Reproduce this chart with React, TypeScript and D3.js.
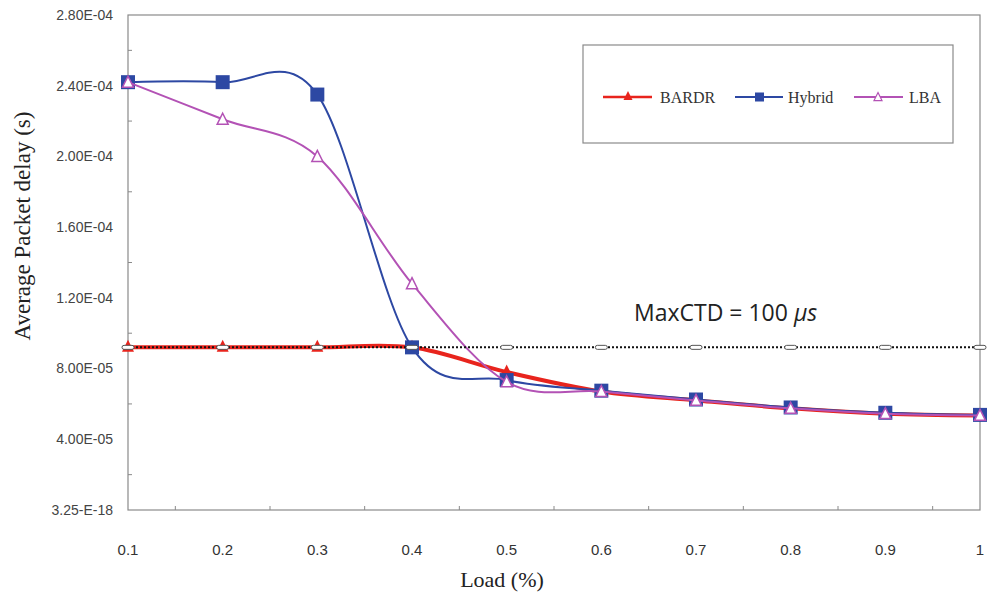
import React from "react";
import * as d3 from "d3";

const loads = [0.1, 0.2, 0.3, 0.4, 0.5, 0.6, 0.7, 0.8, 0.9, 1.0];
const xTickLabels = ["0.1", "0.2", "0.3", "0.4", "0.5", "0.6", "0.7", "0.8", "0.9", "1"];
const bardr = [9.2e-5, 9.2e-5, 9.2e-5, 9.2e-5, 7.8e-5, 6.7e-5, 6.2e-5, 5.75e-5, 5.45e-5, 5.35e-5];
const hybrid = [2.42e-4, 2.42e-4, 2.35e-4, 9.2e-5, 7.35e-5, 6.75e-5, 6.25e-5, 5.8e-5, 5.5e-5, 5.38e-5];
const lba = [2.42e-4, 2.21e-4, 2.0e-4, 1.28e-4, 7.25e-5, 6.7e-5, 6.2e-5, 5.75e-5, 5.45e-5, 5.35e-5];
const maxCTD = [9.2e-5, 9.2e-5, 9.2e-5, 9.2e-5, 9.2e-5, 9.2e-5, 9.2e-5, 9.2e-5, 9.2e-5, 9.2e-5];
const yTickValues = [0, 4e-5, 8e-5, 1.2e-4, 1.6e-4, 2.0e-4, 2.4e-4, 2.8e-4];
const yTickLabels = ["3.25-E-18", "4.00E-05", "8.00E-05", "1.20E-04", "1.60E-04", "2.00E-04", "2.40E-04", "2.80E-04"];
const seriesNames = ["BARDR", "Hybrid", "LBA"];

const RED = "#e8241d";
const BLUE = "#2d48a3";
const PURPLE = "#b352b5";

const W = 993, H = 596;
const left = 128, right = 980, top = 15, bottom = 510;

export default function App() {
  const x = d3.scaleLinear().domain([0.1, 1]).range([left, right]);
  const y = d3.scaleLinear().domain([0, 2.8e-4]).range([bottom, top]);
  const line = (vals: number[]) =>
    d3.line<number>()
      .x((_, i) => x(loads[i]))
      .y((v) => y(v))
      .curve(d3.curveCardinal.tension(0))(vals) as string;

  const tri = (cx: number, cy: number, s: number) =>
    `M${cx},${cy - s * 0.55} L${cx + s / 2},${cy + s * 0.45} L${cx - s / 2},${cy + s * 0.45} Z`;

  const minorY = d3.range(7).map((i) => 2e-5 + i * 4e-5);
  const minorX = d3.range(9).map((i) => 0.15 + i * 0.1);

  const legendY = 97;

  return (
    <svg width={W} height={H} style={{ position: "absolute", left: 0, top: 0, background: "#fff" }}>
      {/* plot frame */}
      <rect x={left} y={top} width={right - left} height={bottom - top} fill="none" stroke="#8a8a8a" strokeWidth={1.2} />
      {minorY.map((v, i) => (
        <line key={"my" + i} x1={left} x2={left + 4} y1={y(v)} y2={y(v)} stroke="#8a8a8a" strokeWidth={1} />
      ))}
      {minorX.map((v, i) => (
        <line key={"mx" + i} x1={x(v)} x2={x(v)} y1={bottom} y2={bottom - 4} stroke="#8a8a8a" strokeWidth={1} />
      ))}
      {/* y tick labels */}
      {yTickValues.map((v, i) => (
        <text key={"yl" + i} x={113} y={y(v)} dy="0.35em" textAnchor="end"
          fontFamily="Liberation Sans, Arial, sans-serif" fontSize={14} fill="#444">
          {yTickLabels[i]}
        </text>
      ))}
      {/* x tick labels */}
      {loads.map((v, i) => (
        <text key={"xl" + i} x={x(v)} y={555} textAnchor="middle"
          fontFamily="Liberation Sans Narrow, Liberation Sans, Arial, sans-serif" fontSize={15} fill="#333">
          {xTickLabels[i]}
        </text>
      ))}
      {/* axis titles */}
      <text x={502} y={587} textAnchor="middle" fontFamily="Liberation Serif, Times New Roman, serif" fontSize={22} fill="#222">
        Load (%)
      </text>
      <text transform={`translate(30,226) rotate(-90)`} textAnchor="middle"
        fontFamily="Liberation Serif, Times New Roman, serif" fontSize={23} fill="#222">
        Average Packet delay (s)
      </text>

      {/* BARDR */}
      <path d={line(bardr)} fill="none" stroke={RED} strokeWidth={4} />
      {bardr.map((v, i) => (
        <path key={"b" + i} d={tri(x(loads[i]), y(v) - 1, 12)} fill={RED} />
      ))}
      {/* Hybrid */}
      <path d={line(hybrid)} fill="none" stroke={BLUE} strokeWidth={2} />
      {hybrid.map((v, i) => (
        <rect key={"h" + i} x={x(loads[i]) - 7} y={y(v) - 7} width={14} height={14} fill={BLUE} />
      ))}
      {/* LBA */}
      <path d={line(lba)} fill="none" stroke={PURPLE} strokeWidth={2} />
      {lba.map((v, i) => (
        <path key={"l" + i} d={tri(x(loads[i]), y(v), 11)} fill="#fff" stroke={PURPLE} strokeWidth={1.5} />
      ))}
      {/* MaxCTD dotted */}
      <path d={d3.line<number>().x((_, i) => x(loads[i])).y((v) => y(v))(maxCTD) as string}
        fill="none" stroke="#111" strokeWidth={2} strokeDasharray="2,2" />
      {maxCTD.map((v, i) => (
        <rect key={"m" + i} x={x(loads[i]) - 6} y={y(v) - 2} width={12} height={4} rx={2}
          fill="#fff" stroke="#555" strokeWidth={1} />
      ))}
      <text x={634} y={321} fontFamily="Open Sans, Liberation Sans, sans-serif" fontSize={23} fill="#222">
        MaxCTD = 100 <tspan fontStyle="italic">μs</tspan>
      </text>

      {/* legend */}
      <rect x={583} y={45} width={370} height={98} fill="#fff" stroke="#8a8a8a" strokeWidth={1.2} />
      <line x1={603} x2={652} y1={legendY} y2={legendY} stroke={RED} strokeWidth={2.5} />
      <path d={tri(628, legendY - 1, 9)} fill={RED} />
      <line x1={735} x2={783} y1={legendY} y2={legendY} stroke={BLUE} strokeWidth={2} />
      <rect x={755} y={legendY - 4.5} width={9} height={9} fill={BLUE} />
      <line x1={854} x2={903} y1={legendY} y2={legendY} stroke={PURPLE} strokeWidth={2} />
      <path d={tri(878, legendY, 8)} fill="#fff" stroke={PURPLE} strokeWidth={1.2} />
      {seriesNames.map((n, i) => (
        <text key={"lg" + i} x={[660, 788, 909][i]} y={legendY} dy="0.35em"
          fontFamily="Liberation Serif, Times New Roman, serif" fontSize={16} fill="#333">
          {n}
        </text>
      ))}
    </svg>
  );
}
